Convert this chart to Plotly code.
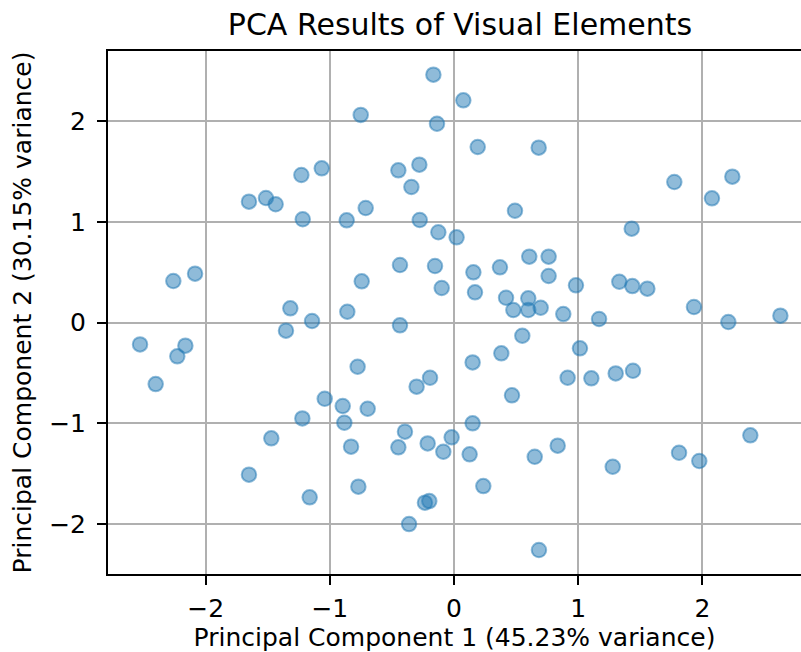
import plotly.graph_objects as go

pc1 = [-1.065, -1.229, -1.651, -1.514, -1.436, -1.218, -0.166, 0.075, -0.751, -0.137,
       0.191, 0.682, -0.279, -0.448, -0.343, -0.711, 0.491, -0.864, -0.276, -0.126,
       0.021, 1.774, 2.241, 2.077, 1.431, -2.085, -2.260, -1.318, -1.143, -1.353,
       -2.528, -2.163, -2.228, -2.402, -1.041, -1.221, 0.606, 0.762, 0.762, -0.435,
       -0.153, -0.743, 0.156, 0.370, -0.099, 0.169, 0.419, 0.598, 0.478, 0.598,
       0.698, 0.880, -0.859, -0.435, 0.550, 0.381, 0.150, -0.776, -0.193, -0.301,
       0.467, -0.896, -0.695, -0.883, 0.150, -0.395, 0.982, 1.331, 1.436, 1.557,
       1.168, 1.932, 2.209, 2.628, 1.014, 0.915, 1.106, 1.302, 1.441, -1.471,
       -1.651, -1.162, -0.829, -0.448, -0.212, -0.019, -0.086, 0.126, 0.650, 0.835,
       -0.770, 0.236, -0.234, -0.199, -0.362, 0.684, 1.278, 1.812, 1.975, 2.386]
pc2 = [1.531, 1.465, 1.200, 1.236, 1.174, 1.025, 2.461, 2.206, 2.061, 1.974,
       1.743, 1.736, 1.567, 1.511, 1.346, 1.137, 1.110, 1.015, 1.018, 0.896,
       0.846, 1.395, 1.448, 1.233, 0.932, 0.485, 0.412, 0.141, 0.015, -0.081,
       -0.217, -0.230, -0.336, -0.611, -0.757, -0.952, 0.654, 0.654, 0.462, 0.571,
       0.561, 0.409, 0.498, 0.548, 0.343, 0.300, 0.246, 0.240, 0.124, 0.124,
       0.147, 0.084, 0.107, -0.028, -0.131, -0.306, -0.396, -0.439, -0.548, -0.637,
       -0.723, -0.829, -0.856, -0.995, -1.001, -1.084, 0.369, 0.405, 0.362, 0.336,
       0.035, 0.154, 0.005, 0.068, -0.256, -0.548, -0.554, -0.505, -0.479, -1.150,
       -1.511, -1.736, -1.233, -1.239, -1.200, -1.140, -1.283, -1.309, -1.333, -1.223,
       -1.630, -1.624, -1.789, -1.773, -2.001, -2.259, -1.432, -1.293, -1.375, -1.120]

title_text = "PCA Results of Visual Elements"
x_label = "Principal Component 1 (45.23% variance)"
y_label = "Principal Component 2 (30.15% variance)"
tick_vals = [-2, -1, 0, 1, 2]

fig = go.Figure()
fig.add_trace(go.Scatter(
    x=pc1, y=pc2, mode="markers",
    marker=dict(size=14.5, color="rgba(31,119,180,0.5)",
                line=dict(color="rgba(31,119,180,0.5)", width=2)),
    showlegend=False,
))

font = "DejaVu Sans"
axis_common = dict(
    showgrid=True, gridcolor="#b0b0b0", gridwidth=1.6,
    showline=True, linecolor="black", linewidth=2, mirror=True,
    ticks="outside", ticklen=9, tickwidth=2, tickcolor="black",
    zeroline=False, tickvals=tick_vals, automargin=False,
    tickfont=dict(family=font, size=25, color="black"),
)

fig.update_layout(
    width=801, height=652,
    margin=dict(l=108, r=0, t=51, b=78),
    paper_bgcolor="white", plot_bgcolor="white",
    title=dict(text=title_text, x=460/801, xanchor="center", y=1-24/652, yanchor="middle",
               xref="container", yref="container", automargin=False,
               font=dict(family=font, size=30, color="black")),
    xaxis=dict(range=[-2.786, 2.794],
               title=dict(text=x_label, font=dict(family=font, size=25, color="black"), standoff=6),
               ticklabelstandoff=2, **axis_common),
    yaxis=dict(range=[-2.497, 2.696],
               title=dict(text=y_label, font=dict(family=font, size=25, color="black"), standoff=10),
               ticklabelstandoff=6, **axis_common),
)

fig.write_html("out.html",
               config={"displayModeBar": False},
               post_script="document.body.style.margin='0';document.body.style.overflow='hidden';")
